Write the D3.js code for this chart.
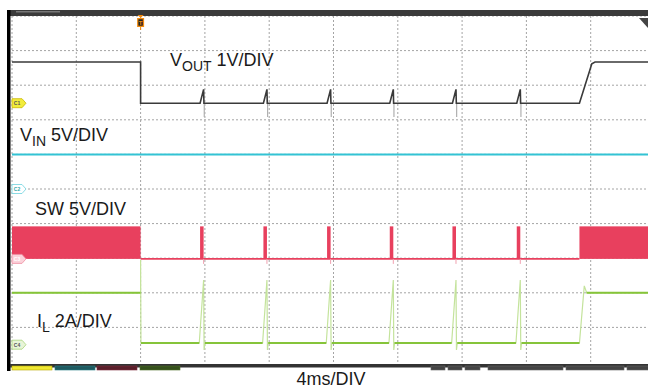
<!DOCTYPE html>
<html>
<head>
<meta charset="utf-8">
<script src="https://cdn.jsdelivr.net/npm/d3@7"></script>
<style>
  body { margin: 0; background: #fff; }
  text { font-family: "Liberation Sans", Arial, sans-serif; }
</style>
</head>
<body>
<script>
// Scope setup: 4ms/div, trigger 2 divisions from the left
var timeRange = [-8, 32];          // ms
var divCount = 10;

// channel reference markers (division from top) and scale per division
var chOffset = { c1: 2.52, c2: 5.0, c3: 7.02, c4: 9.5 };
var chPerDiv = { c1: 1, c2: 5, c3: 5, c4: 2 };

// events (ms after trigger)
var pulseTimes = [3.7, 7.64, 11.6, 15.5, 19.4, 23.4];
var pulseWidth = 0.22;
var restartTime = 27.3;
var restartEnd = 28.17;

// levels
var voutHigh = 1.19, voutLow = 0.0, voutPeak = 0.4, voutDip = -0.4;   // V
var vinLevel = 5.0;                                                  // V
var swHigh = 4.7, swLow = 0.0;                                       // V
var ilHigh = 3.0, ilLow = 0.1, ilPeak = 3.74, ilDip = -0.3, ilStartSpike = 4.9, ilOvershoot = 3.4; // A

var labels = [
  { main: "V", sub: "OUT", rest: " 1V/DIV", x: 170, y: 66 },
  { main: "V", sub: "IN", rest: " 5V/DIV", x: 20, y: 141 },
  { main: "SW 5V/DIV", sub: "", rest: "", x: 35, y: 215 },
  { main: "I", sub: "L", rest: " 2A/DIV", x: 37, y: 327 }
];

var svgWidth = 648, svgHeight = 389;

var svg = d3.select("body").append("svg")
  .attr("width", svgWidth)
  .attr("height", svgHeight);

var x = d3.scaleLinear().domain(timeRange).range([12, 655]);
var yDiv = d3.scaleLinear().domain([0, divCount]).range([16, 362]);

function chY(ch) {
  return function(v) { return yDiv(chOffset[ch] - v / chPerDiv[ch]); };
}
var y1 = chY("c1"), y2 = chY("c2"), y3 = chY("c3"), y4 = chY("c4");

// grid
var grid = svg.append("g");
grid.selectAll("line.v")
  .data(d3.range(timeRange[0], timeRange[1] + 1, 4))
  .enter().append("line")
  .attr("x1", d => x(d)).attr("x2", d => x(d))
  .attr("y1", yDiv(0)).attr("y2", yDiv(divCount))
  .attr("stroke", "#a4a4a4").attr("stroke-dasharray", "2,2");
grid.selectAll("line.h")
  .data(d3.range(0, divCount))
  .enter().append("line")
  .attr("x1", x(timeRange[0])).attr("x2", svgWidth)
  .attr("y1", d => yDiv(d)).attr("y2", d => yDiv(d))
  .attr("stroke", "#a4a4a4").attr("stroke-dasharray", "2,2");

var line = d3.line().x(d => x(d[0])).y(d => d[1]);

// ---- VIN
svg.append("path")
  .attr("d", line([[timeRange[0], y2(vinLevel)], [timeRange[1], y2(vinLevel)]]))
  .attr("stroke", "#33c3d4").attr("stroke-width", 2).attr("fill", "none");

// ---- SW
var sw = svg.append("g").attr("fill", "#e8405e");
sw.append("rect")
  .attr("x", x(timeRange[0])).attr("width", x(0) - x(timeRange[0]))
  .attr("y", y3(swHigh)).attr("height", y3(swLow) - y3(swHigh));
sw.append("rect")
  .attr("x", x(restartTime)).attr("width", x(timeRange[1]) - x(restartTime))
  .attr("y", y3(swHigh)).attr("height", y3(swLow) - y3(swHigh));
sw.selectAll("rect.p")
  .data(pulseTimes)
  .enter().append("rect")
  .attr("x", d => x(d)).attr("width", x(pulseWidth) - x(0))
  .attr("y", y3(swHigh)).attr("height", y3(swLow) - y3(swHigh));
svg.append("path")
  .attr("d", line([[0, y3(swLow)], [restartTime, y3(swLow)]]))
  .attr("stroke", "#e8405e").attr("stroke-width", 1.6).attr("fill", "none");
svg.selectAll("line.swdip")
  .data(pulseTimes)
  .enter().append("line")
  .attr("x1", d => x(d + pulseWidth)).attr("x2", d => x(d + pulseWidth))
  .attr("y1", y3(swLow)).attr("y2", y3(swLow) + 5)
  .attr("stroke", "#f0a0b0").attr("stroke-width", 1);

// ---- VOUT
var vout = [[timeRange[0], voutHigh], [0, voutHigh], [0, voutLow]];
pulseTimes.forEach(function(p) {
  vout.push([p, voutLow], [p + pulseWidth, voutPeak], [p + pulseWidth + 0.02, voutLow]);
});
vout.push([restartTime, voutLow], [restartEnd - 0.1, voutHigh - 0.05], [restartEnd + 0.1, voutHigh], [timeRange[1], voutHigh]);
svg.selectAll("line.vdip")
  .data(pulseTimes)
  .enter().append("line")
  .attr("x1", d => x(d + pulseWidth + 0.04)).attr("x2", d => x(d + pulseWidth + 0.04))
  .attr("y1", y1(voutLow)).attr("y2", y1(voutDip))
  .attr("stroke", "#b0b0b0").attr("stroke-width", 1.2);
svg.append("path")
  .attr("d", line(vout.map(d => [d[0], y1(d[1])])))
  .attr("stroke", "#3a3a3a").attr("stroke-width", 1.6).attr("fill", "none");

// ---- IL
var il = [[timeRange[0], ilHigh], [0, ilHigh], [0, ilStartSpike], [0.02, ilLow]];
pulseTimes.forEach(function(p) {
  il.push([p - 0.05, ilLow], [p + pulseWidth, ilPeak], [p + pulseWidth + 0.03, ilDip], [p + pulseWidth + 0.08, ilLow]);
});
il.push([restartTime, ilLow], [restartTime + 0.3, ilOvershoot], [restartTime + 0.45, ilHigh], [timeRange[1], ilHigh]);
svg.append("path")
  .attr("d", line(il.map(d => [d[0], y4(d[1])])))
  .attr("stroke", "#c4e39c").attr("stroke-width", 1.2).attr("fill", "none");

// bold flat parts of the inductor current
var ilFlat = [[timeRange[0], 0, ilHigh]];
var prev = 0.02;
pulseTimes.forEach(function(p) {
  ilFlat.push([prev, p - 0.05, ilLow]);
  prev = p + pulseWidth + 0.08;
});
ilFlat.push([prev, restartTime, ilLow], [restartTime + 0.45, timeRange[1], ilHigh]);
svg.selectAll("line.ilf")
  .data(ilFlat)
  .enter().append("line")
  .attr("x1", d => x(d[0])).attr("x2", d => x(d[1]))
  .attr("y1", d => y4(d[2])).attr("y2", d => y4(d[2]))
  .attr("stroke", "#86c43a").attr("stroke-width", 2);

// ---- frame: top bar, left border, bottom status bar
svg.append("rect").attr("x", 10).attr("y", 10).attr("width", svgWidth - 10).attr("height", 6).attr("fill", "#3a3a3a");
svg.append("rect").attr("x", 16).attr("y", 11).attr("width", 44).attr("height", 1.5).attr("fill", "#777");
svg.append("rect").attr("x", 7).attr("y", 10).attr("width", 3.5).attr("height", 361).attr("fill", "#000");
svg.append("rect").attr("x", 10).attr("y", 364).attr("width", svgWidth - 10).attr("height", 3.5).attr("fill", "#333");

var tabs = [
  { x: 12, w: 40, fill: "#f0e833", stroke: "#b8a800" },
  { x: 55, w: 40, fill: "#1f5a60", stroke: "#2a8088" },
  { x: 97, w: 40, fill: "#5a1f2a", stroke: "#803040" },
  { x: 140, w: 40, fill: "#35501c", stroke: "#4d7028" },
  { x: 431, w: 14, fill: "#444", stroke: "#666" },
  { x: 448, w: 14, fill: "#444", stroke: "#666" },
  { x: 465, w: 15, fill: "#444", stroke: "#666" },
  { x: 488, w: 75, fill: "#444", stroke: "#666" },
  { x: 566, w: 58, fill: "#444", stroke: "#666" },
  { x: 627, w: 25, fill: "#444", stroke: "#666" }
];
svg.selectAll("rect.tab")
  .data(tabs)
  .enter().append("rect")
  .attr("x", d => d.x).attr("y", 366).attr("width", d => d.w).attr("height", 4)
  .attr("fill", d => d.fill).attr("stroke", d => d.stroke).attr("stroke-width", 0.6);
svg.append("rect").attr("x", 0).attr("y", 371).attr("width", svgWidth).attr("height", 18).attr("fill", "#fff");

// ---- channel markers
var markers = [
  { id: "C1", y: y1(0), fill: "#f2ec3c", stroke: "#c8b800", text: "#555" },
  { id: "C2", y: y2(0), fill: "#ffffff", stroke: "#6fd3de", text: "#3aa" },
  { id: "C3", y: y3(0), fill: "#fbd2da", stroke: "#ef90a2", text: "#fff" },
  { id: "C4", y: y4(0), fill: "#e8f4d8", stroke: "#a8d47a", text: "#555" }
];
var mk = svg.selectAll("g.mk")
  .data(markers)
  .enter().append("g");
mk.append("path")
  .attr("d", d => `M12,${d.y - 4.5}L22,${d.y - 4.5}L26,${d.y}L22,${d.y + 4.5}L12,${d.y + 4.5}Z`)
  .attr("fill", d => d.fill).attr("stroke", d => d.stroke).attr("stroke-width", 0.8);
mk.append("text")
  .attr("x", 17).attr("y", d => d.y + 2)
  .attr("text-anchor", "middle").attr("font-size", 5).attr("font-weight", "bold")
  .attr("fill", d => d.text)
  .text(d => d.id);

// ---- trigger marker
var tx = x(0);
svg.append("path").attr("d", `M${tx - 3},15L${tx + 3},15L${tx},18Z`).attr("fill", "#f08a10");
svg.append("rect").attr("x", tx - 3.5).attr("y", 18).attr("width", 7).attr("height", 9).attr("fill", "#f08a10");
svg.append("rect").attr("x", tx - 2.2).attr("y", 19.3).attr("width", 4.4).attr("height", 6.4).attr("fill", "#222");
svg.append("text").attr("x", tx).attr("y", 25).attr("text-anchor", "middle")
  .attr("font-size", 6).attr("font-weight", "bold").attr("fill", "#f08a10").text("T");
svg.append("line").attr("x1", tx).attr("x2", tx).attr("y1", 27).attr("y2", 30)
  .attr("stroke", "#f08a10").attr("stroke-width", 1);

// top right level marker
svg.append("path").attr("d", "M639,18L657,18L648,28Z").attr("fill", "#444");

// ---- channel labels
var lab = svg.selectAll("text.lab")
  .data(labels)
  .enter().append("text")
  .attr("x", d => d.x).attr("y", d => d.y)
  .attr("font-size", 18).attr("fill", "#1a1a1a");
lab.append("tspan").text(d => d.main);
lab.append("tspan").attr("font-size", 14).attr("dy", 5).text(d => d.sub);
lab.append("tspan").attr("dy", d => d.sub ? -5 : 0).text(d => d.rest);

// time base
svg.append("text")
  .attr("x", 331).attr("y", 385)
  .attr("text-anchor", "middle").attr("font-size", 18).attr("fill", "#1a1a1a")
  .text("4ms/DIV");
</script>
</body>
</html>
